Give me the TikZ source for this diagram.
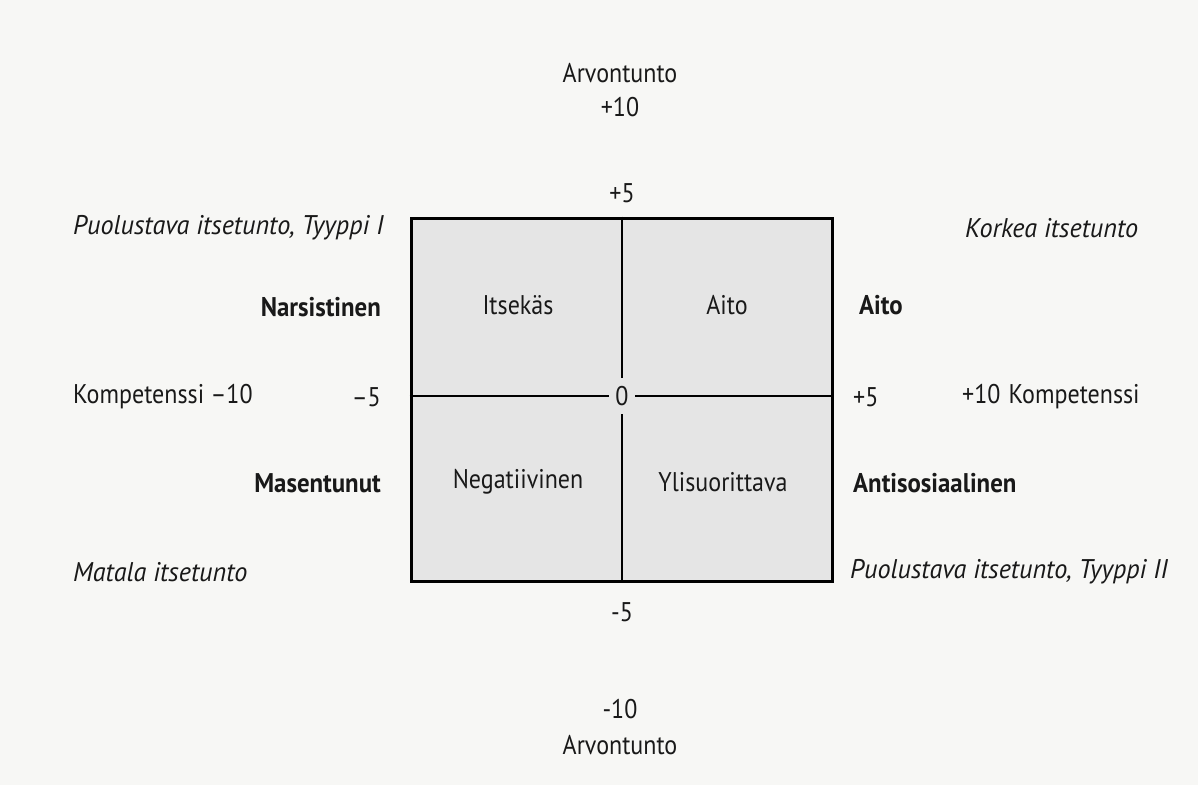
\documentclass[tikz,border=0pt]{standalone}
\usepackage{fontspec}
\setmainfont{PT Sans}[FakeStretch=0.89, ItalicFeatures={FakeStretch=0.97}, BoldFeatures={FakeStretch=0.92}]
\definecolor{bgc}{RGB}{247,247,245}
\definecolor{boxc}{RGB}{229,229,229}
\begin{document}
\begin{tikzpicture}[x=1pt,y=-1pt,
  lbl/.style={inner sep=0pt, text=black!90, font=\fontsize{27}{31}\selectfont},
  itl/.style={lbl, font=\fontsize{27}{31}\selectfont\itshape},
  bld/.style={lbl, font=\fontsize{27}{31}\selectfont\bfseries},
  axisline/.style={line width=1.6pt}]
\fill[bgc] (0,0) rectangle (1198,785);
\useasboundingbox (0,0) rectangle (1198,785);
% square
\node[draw, line width=3pt, fill=boxc, minimum width=421, minimum height=363, inner sep=0pt] (sq) at (621.5,399.5) {};
\node[lbl, inner xsep=6pt, inner ysep=8pt] (zero) at (622,396) {0};
\draw[axisline] (sq.north -| zero) -- (zero.north);
\draw[axisline] (sq.south -| zero) -- (zero.south);
\draw[axisline] (sq.west |- zero) -- (zero.west);
\draw[axisline] (sq.east |- zero) -- (zero.east);
% quadrant labels
\node[lbl] (q1) at (518,305) {Itsekäs};
\node[lbl] (q2) at (727,305) {Aito};
\node[lbl] (q3) at (518,482) {Negatiivinen};
\node[lbl] (q4) at (723,482) {Ylisuorittava};
% vertical axis
\node[lbl] (p5) at (622,193) {+5};
\node[lbl] (m5) at (622,612) {-5};
\node[lbl] (arvt) at (620,73) {Arvontunto};
\node[lbl] (p10) at (620,107) {+10};
\node[lbl] (m10) at (620,709) {-10};
\node[lbl] (arvb) at (620,745) {Arvontunto};
% left side
\node[itl, anchor=west] (pt1) at (73,228) {Puolustava itsetunto, Tyyppi I};
\node[bld, anchor=east] (nar) at (381,307) {Narsistinen};
\node[lbl, anchor=west] (kl) at (73,397) {Kompetenssi –10};
\node[lbl, anchor=east] (lm5) at (381,397) {–5};
\node[bld, anchor=east] (mas) at (381,483) {Masentunut};
\node[itl, anchor=west] (mat) at (73,572) {Matala itsetunto};
% right side
\node[itl, anchor=west] (kor) at (965,228) {Korkea itsetunto};
\node[bld, anchor=west] (aito) at (859,305) {Aito};
\node[lbl, anchor=west] (rp5) at (853,397) {+5};
\node[lbl, anchor=west] (kr) at (962,397) {+10\hspace{0.3em}Kompetenssi};
\node[bld, anchor=west] (anti) at (853,483) {Antisosiaalinen};
\node[itl, anchor=west] (pt2) at (850,572) {Puolustava itsetunto, Tyyppi II};
\end{tikzpicture}
\end{document}
